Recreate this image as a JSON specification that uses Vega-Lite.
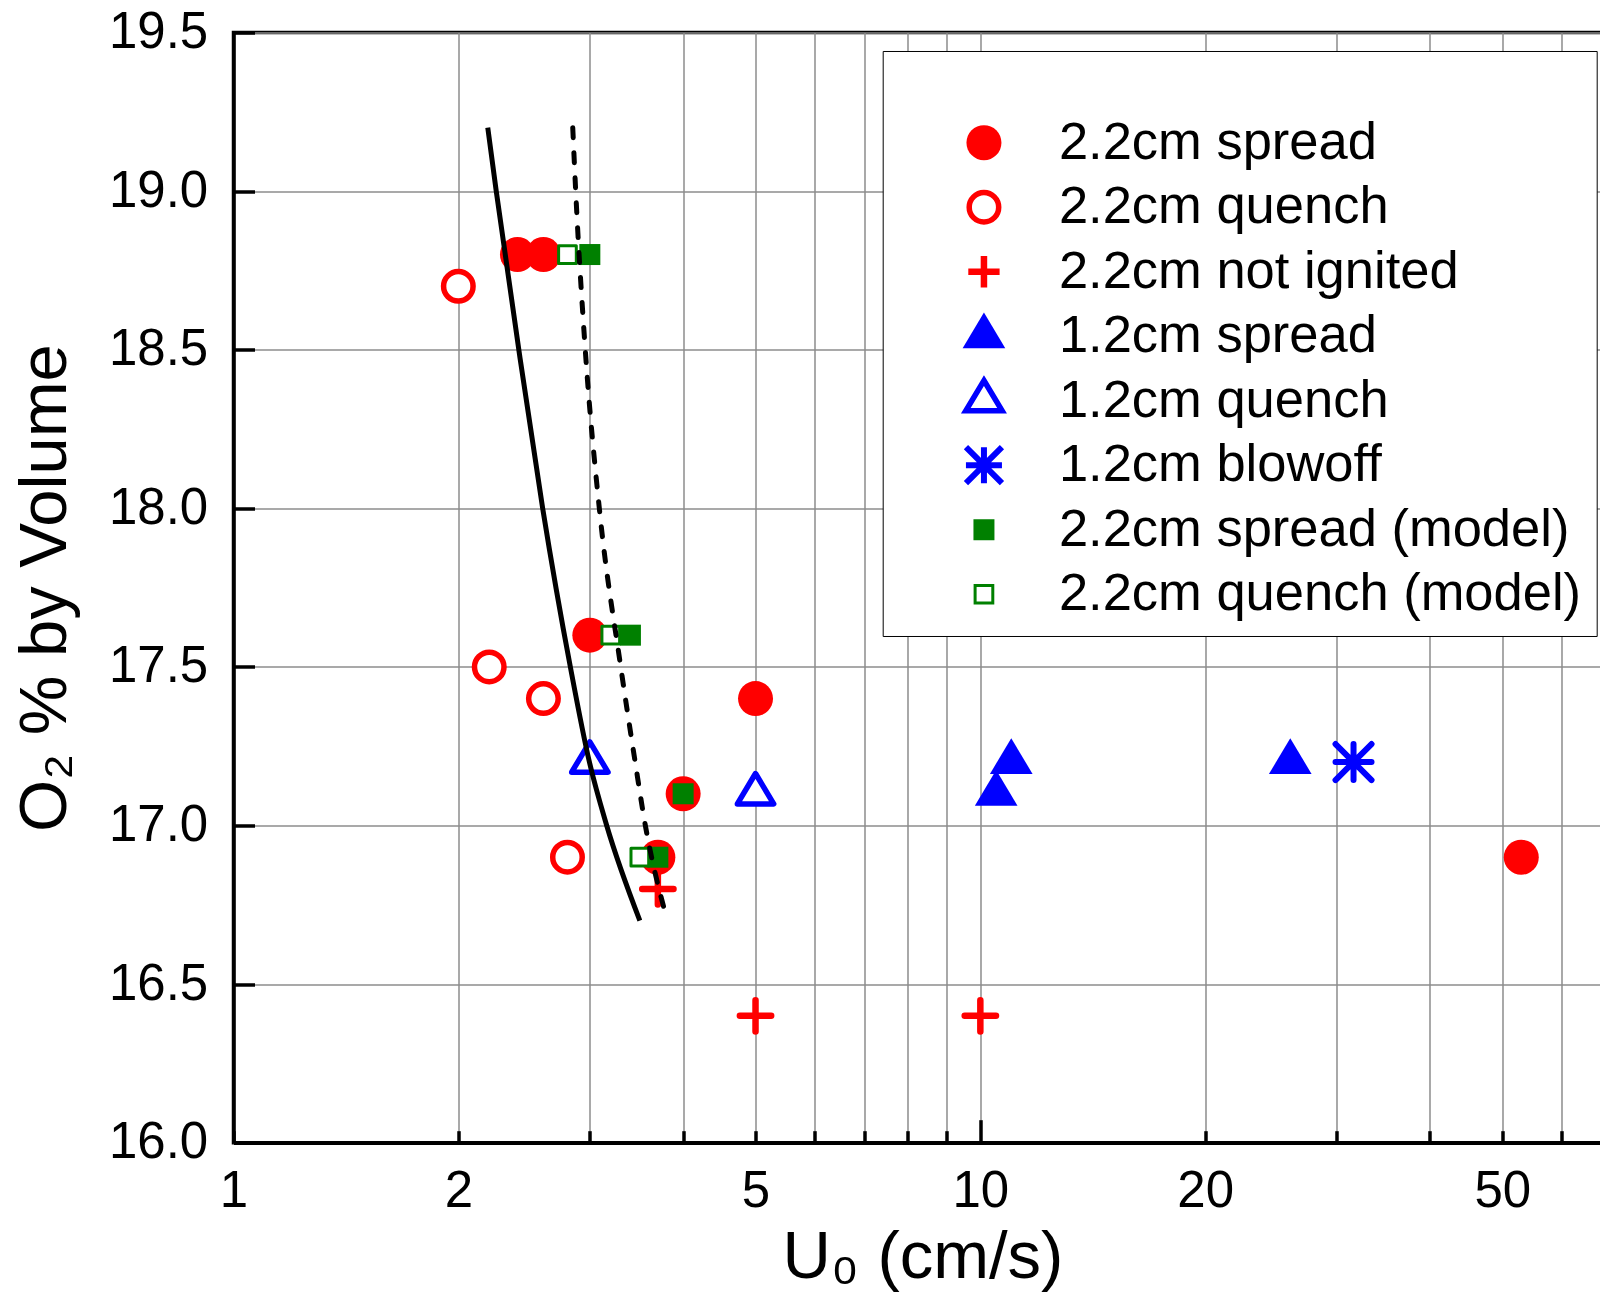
{
  "$schema": "https://vega.github.io/schema/vega-lite/v6.json",
  "autosize": "none",
  "padding": {"left": 233.5, "top": 32.5, "right": 0, "bottom": 160},
  "width": 1378,
  "height": 1110.2,
  "background": "white",
  "config": {
    "view": {"stroke": "black", "strokeWidth": 3.5},
    "font": "Liberation Sans",
    "legend": {
      "labelFont": "Liberation Sans",
      "labelFontSize": 52.5,
      "labelColor": "black",
      "labelLimit": 0,
      "titleFont": "Liberation Sans",
      "titleFontSize": 30,
      "titlePadding": 20.5,
      "rowPadding": 1.5,
      "gridAlign": "all",
      "padding": 15,
      "strokeColor": "black",
      "fillColor": "white",
      "cornerRadius": 0,
      "symbolOffset": 60,
      "labelOffset": 48.7
    }
  },
  "layer": [
    {
      "data": {
        "values": [
          {"u": 2.4, "o2": 18.8, "series": "2.2cm spread"},
          {"u": 2.6, "o2": 18.8, "series": "2.2cm spread"},
          {"u": 3.0, "o2": 17.6, "series": "2.2cm spread"},
          {"u": 4.0, "o2": 17.1, "series": "2.2cm spread"},
          {"u": 3.7, "o2": 16.9, "series": "2.2cm spread"},
          {"u": 5.0, "o2": 17.4, "series": "2.2cm spread"},
          {"u": 53, "o2": 16.9, "series": "2.2cm spread"},
          {"u": 2.0, "o2": 18.7, "series": "2.2cm quench"},
          {"u": 2.2, "o2": 17.5, "series": "2.2cm quench"},
          {"u": 2.6, "o2": 17.4, "series": "2.2cm quench"},
          {"u": 2.8, "o2": 16.9, "series": "2.2cm quench"},
          {"u": 3.7, "o2": 16.8, "series": "2.2cm not ignited"},
          {"u": 5.0, "o2": 16.4, "series": "2.2cm not ignited"},
          {"u": 10.0, "o2": 16.4, "series": "2.2cm not ignited"},
          {"u": 11.0, "o2": 17.2, "series": "1.2cm spread"},
          {"u": 10.5, "o2": 17.1, "series": "1.2cm spread"},
          {"u": 26.0, "o2": 17.2, "series": "1.2cm spread"},
          {"u": 3.0, "o2": 17.2, "series": "1.2cm quench"},
          {"u": 5.0, "o2": 17.1, "series": "1.2cm quench"},
          {"u": 31.6, "o2": 17.2, "series": "1.2cm blowoff"},
          {"u": 3.0, "o2": 18.8, "series": "2.2cm spread (model)"},
          {"u": 3.4, "o2": 17.6, "series": "2.2cm spread (model)"},
          {"u": 4.0, "o2": 17.1, "series": "2.2cm spread (model)"},
          {"u": 3.7, "o2": 16.9, "series": "2.2cm spread (model)"},
          {"u": 2.8, "o2": 18.8, "series": "2.2cm quench (model)"},
          {"u": 3.2, "o2": 17.6, "series": "2.2cm quench (model)"},
          {"u": 3.5, "o2": 16.9, "series": "2.2cm quench (model)"}
        ]
      },
      "mark": {"type": "point", "opacity": 1, "strokeJoin": "round", "strokeCap": "round"},
      "encoding": {
        "x": {
          "field": "u",
          "type": "quantitative",
          "scale": {"type": "log", "domain": [1, 70], "nice": false},
          "axis": {
            "title": "U₀ (cm/s)",
            "values": [1, 2, 3, 4, 5, 6, 7, 8, 9, 10, 20, 30, 40, 50, 60],
            "labelExpr": "(datum.value == 1 || datum.value == 2 || datum.value == 5 || datum.value == 10 || datum.value == 20 || datum.value == 50) ? format(datum.value, 'd') : ''",
            "labelFont": "Liberation Sans",
            "labelFontSize": 51,
            "labelColor": "black",
            "labelOverlap": false,
            "labelFlush": false,
            "labelBound": false,
            "tickSize": {"condition": {"test": "datum.value == 10", "value": -23}, "value": -12},
            "labelPadding": {"condition": {"test": "datum.value == 10", "value": 46.5}, "value": 35.5},
            "tickWidth": 3.5,
            "tickColor": "black",
            "grid": true,
            "gridColor": "#8c8c8c",
            "gridWidth": 1.5,
            "domainColor": "black",
            "domainWidth": 3.5,
            "titleFont": "Liberation Sans",
            "titleFontSize": 67,
            "titleFontWeight": "normal",
            "titleColor": "black",
            "titlePadding": 8
          }
        },
        "y": {
          "field": "o2",
          "type": "quantitative",
          "scale": {"domain": [16, 19.5], "nice": false, "zero": false},
          "axis": {
            "title": "O₂ % by Volume",
            "values": [16, 16.5, 17, 17.5, 18, 18.5, 19, 19.5],
            "format": ".1f",
            "labelFont": "Liberation Sans",
            "labelFontSize": 51,
            "labelColor": "black",
            "labelOverlap": false,
            "labelFlush": false,
            "labelBound": false,
            "tickSize": -21,
            "labelPadding": 46.8,
            "tickWidth": 3.5,
            "tickColor": "black",
            "grid": true,
            "gridColor": "#8c8c8c",
            "gridWidth": 1.5,
            "domainColor": "black",
            "domainWidth": 3.5,
            "titleFont": "Liberation Sans",
            "titleFontSize": 67,
            "titleFontWeight": "normal",
            "titleColor": "black",
            "titlePadding": 29
          }
        },
        "shape": {
          "field": "series",
          "type": "nominal",
          "scale": {
            "domain": ["2.2cm spread", "2.2cm quench", "2.2cm not ignited", "1.2cm spread", "1.2cm quench", "1.2cm blowoff", "2.2cm spread (model)", "2.2cm quench (model)"],
            "range": ["circle", "circle", "M-1,0H1M0,-1V1", "M0,-1.115L1,0.557L-1,0.557Z", "M0,-1.115L1,0.557L-1,0.557Z", "M0,-1V1M-1,0H1M-1,-1L1,1M-1,1L1,-1", "square", "square"]
          },
          "legend": {"title": " ", "orient": "none", "legendX": 649.2, "legendY": 18.5}
        },
        "stroke": {
          "field": "series",
          "type": "nominal",
          "scale": {
            "domain": ["2.2cm spread", "2.2cm quench", "2.2cm not ignited", "1.2cm spread", "1.2cm quench", "1.2cm blowoff", "2.2cm spread (model)", "2.2cm quench (model)"],
            "range": ["#ff0000", "#ff0000", "#ff0000", "#0000ff", "#0000ff", "#0000ff", "#008000", "#008000"]
          },
          "legend": {"title": " ", "orient": "none", "legendX": 649.2, "legendY": 18.5}
        },
        "fill": {
          "field": "series",
          "type": "nominal",
          "scale": {
            "domain": ["2.2cm spread", "2.2cm quench", "2.2cm not ignited", "1.2cm spread", "1.2cm quench", "1.2cm blowoff", "2.2cm spread (model)", "2.2cm quench (model)"],
            "range": ["#ff0000", "#ffffff", "#ffffff", "#0000ff", "#ffffff", "#ffffff", "#008000", "#ffffff"]
          },
          "legend": {"title": " ", "orient": "none", "legendX": 649.2, "legendY": 18.5}
        },
        "size": {
          "field": "series",
          "type": "nominal",
          "scale": {
            "type": "ordinal",
            "domain": ["2.2cm spread", "2.2cm quench", "2.2cm not ignited", "1.2cm spread", "1.2cm quench", "1.2cm blowoff", "2.2cm spread (model)", "2.2cm quench (model)"],
            "range": [1225, 870, 980, 1820, 1320, 1296, 441, 313]
          },
          "legend": {"title": " ", "orient": "none", "legendX": 649.2, "legendY": 18.5}
        },
        "strokeWidth": {
          "field": "series",
          "type": "nominal",
          "scale": {
            "type": "ordinal",
            "domain": ["2.2cm spread", "2.2cm quench", "2.2cm not ignited", "1.2cm spread", "1.2cm quench", "1.2cm blowoff", "2.2cm spread (model)", "2.2cm quench (model)"],
            "range": [0, 5.5, 6.5, 0, 5.5, 6, 0, 3]
          },
          "legend": {"title": " ", "orient": "none", "legendX": 649.2, "legendY": 18.5}
        }
      }
    },
    {
      "data": {
        "values": [
          {"u": 2.19, "o2": 19.2},
          {"u": 2.248, "o2": 19.0},
          {"u": 2.41, "o2": 18.5},
          {"u": 2.594, "o2": 18.0},
          {"u": 2.825, "o2": 17.5},
          {"u": 2.996, "o2": 17.2},
          {"u": 3.16, "o2": 17.0},
          {"u": 3.5, "o2": 16.7}
        ]
      },
      "mark": {"type": "line", "color": "black", "strokeWidth": 5, "interpolate": "monotone"},
      "encoding": {
        "x": {"field": "u", "type": "quantitative"},
        "y": {"field": "o2", "type": "quantitative"}
      }
    },
    {
      "data": {
        "values": [
          {"u": 2.846, "o2": 19.2},
          {"u": 2.872, "o2": 19.0},
          {"u": 2.958, "o2": 18.5},
          {"u": 3.089, "o2": 18.0},
          {"u": 3.3, "o2": 17.5},
          {"u": 3.45, "o2": 17.2},
          {"u": 3.56, "o2": 17.0},
          {"u": 3.79, "o2": 16.72}
        ]
      },
      "mark": {"type": "line", "color": "black", "strokeWidth": 5, "strokeDash": [10, 15], "strokeCap": "round", "interpolate": "monotone"},
      "encoding": {
        "x": {"field": "u", "type": "quantitative"},
        "y": {"field": "o2", "type": "quantitative"}
      }
    }
  ]
}
